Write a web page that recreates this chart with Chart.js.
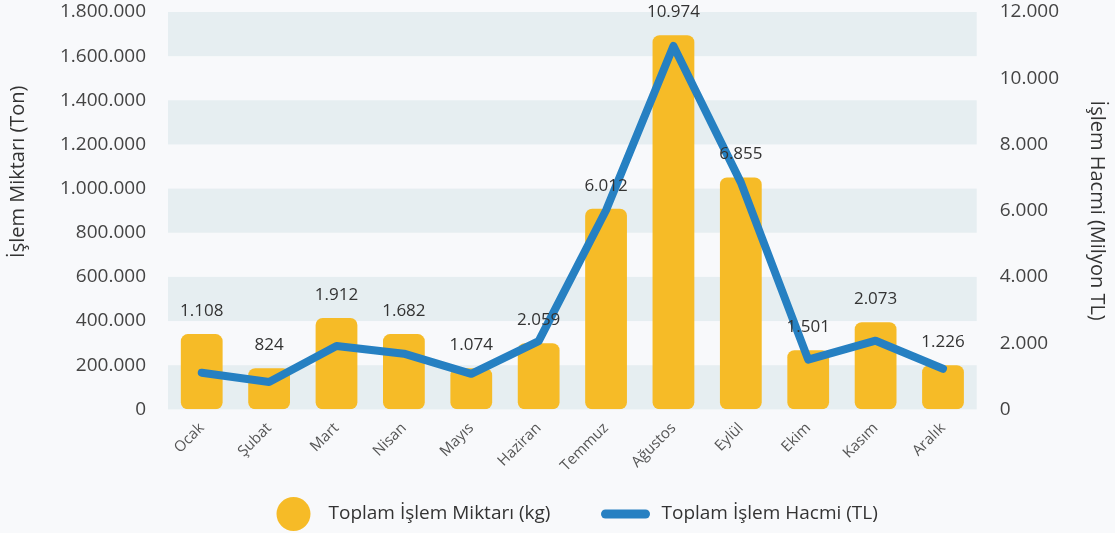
<!DOCTYPE html>
<html lang="tr">
<head>
<meta charset="utf-8">
<script src="https://cdn.jsdelivr.net/npm/chart.js@4.4.1/dist/chart.umd.min.js"></script>
<style>
  html, body { margin: 0; padding: 0; background: #f8f9fb; }
  #wrap { width: 1115px; height: 533px; }
</style>
</head>
<body>
<div id="wrap"><canvas id="islemChart"></canvas></div>
<script>
const months = ["Ocak", "Şubat", "Mart", "Nisan", "Mayıs", "Haziran", "Temmuz", "Ağustos", "Eylül", "Ekim", "Kasım", "Aralık"];
// toplam islem miktari (sol eksen)
const miktar = [341000, 186000, 414000, 341000, 186000, 300000, 909000, 1695000, 1050000, 268000, 395000, 200000];
// toplam islem hacmi, milyon TL (sag eksen)
const hacim = [1108, 824, 1912, 1682, 1074, 2059, 6012, 10974, 6855, 1501, 2073, 1226];
const legendNames = ["Toplam İşlem Miktarı (kg)", "Toplam İşlem Hacmi (TL)"];

const FONT = "'Open Sans', sans-serif";
const YELLOW = "#f6bb27";
const BLUE = "#2680c2";

function trNum(v) {
  return String(Math.round(v)).replace(/\B(?=(\d{3})+(?!\d))/g, ".");
}

// tick padding also pads the top/bottom of a vertical axis; drop that
function noVertPad(scale) {
  scale.paddingTop = 0;
  scale.paddingBottom = 0;
}

// alternating horizontal bands behind the bars
const bands = {
  id: "bands",
  beforeDatasetsDraw(chart) {
    const { ctx, chartArea, scales } = chart;
    const ticks = scales.y.ticks;
    ctx.save();
    ctx.fillStyle = "#e6eef1";
    for (let i = 0; i < ticks.length - 1; i += 2) {
      const y1 = scales.y.getPixelForValue(ticks[i].value);
      const y2 = scales.y.getPixelForValue(ticks[i + 1].value);
      ctx.fillRect(chartArea.left, y2, chartArea.right - chartArea.left, y1 - y2);
    }
    ctx.restore();
  }
};

// hacim values written above each bar
const valueLabels = {
  id: "valueLabels",
  afterDatasetsDraw(chart) {
    const { ctx } = chart;
    const bars = chart.getDatasetMeta(0).data;
    ctx.save();
    ctx.font = "17px " + FONT;
    ctx.fillStyle = "#333";
    ctx.textAlign = "center";
    ctx.textBaseline = "middle";
    bars.forEach((bar, i) => {
      ctx.fillText(trNum(hacim[i]), bar.x, bar.y - 23);
    });
    ctx.restore();
  }
};

// legend at the bottom: circle for bars, thick line for the line series
const bottomLegend = {
  id: "bottomLegend",
  afterDraw(chart) {
    const { ctx } = chart;
    const cx = chart.width / 2;
    const y = chart.height - 19;
    ctx.save();
    ctx.font = "19px " + FONT;
    ctx.fillStyle = YELLOW;
    ctx.beginPath();
    ctx.arc(cx - 264, y, 17, 0, Math.PI * 2);
    ctx.fill();
    ctx.strokeStyle = BLUE;
    ctx.lineWidth = 9;
    ctx.lineCap = "round";
    ctx.beginPath();
    ctx.moveTo(cx + 48, y);
    ctx.lineTo(cx + 88, y);
    ctx.stroke();
    ctx.fillStyle = "#333";
    ctx.textAlign = "left";
    ctx.textBaseline = "middle";
    ctx.fillText(legendNames[0], cx - 229, y);
    ctx.fillText(legendNames[1], cx + 104, y);
    ctx.restore();
  }
};

const ctx = document.getElementById("islemChart").getContext("2d");
new Chart(ctx, {
  data: {
    labels: months,
    datasets: [
      {
        type: "bar",
        label: legendNames[0],
        data: miktar,
        backgroundColor: YELLOW,
        borderRadius: 7,
        borderSkipped: false,
        barPercentage: 0.62,
        categoryPercentage: 1,
        yAxisID: "y",
        order: 2
      },
      {
        type: "line",
        label: legendNames[1],
        data: hacim,
        borderColor: BLUE,
        borderWidth: 8,
        borderCapStyle: "round",
        borderJoinStyle: "round",
        pointRadius: 0,
        tension: 0,
        yAxisID: "y1",
        order: 1
      }
    ]
  },
  options: {
    responsive: true,
    maintainAspectRatio: false,
    animation: false,
    layout: { padding: { top: 12, bottom: 56, left: 6, right: 6 } },
    plugins: {
      legend: { display: false },
      tooltip: { enabled: false }
    },
    scales: {
      x: {
        grid: { display: false },
        border: { display: false },
        ticks: {
          color: "#555",
          font: { family: FONT, size: 15 },
          maxRotation: 45,
          minRotation: 45,
          padding: 2
        }
      },
      y: {
        position: "left",
        min: 0,
        max: 1800000,
        afterFit: noVertPad,
        grid: { display: false },
        border: { display: false },
        ticks: {
          stepSize: 200000,
          color: "#444",
          padding: 14,
          font: { family: FONT, size: 19 },
          callback: v => trNum(v)
        },
        title: {
          display: true,
          text: "               İşlem Miktarı (Ton)",
          color: "#333",
          font: { family: FONT, size: 20 },
          padding: { top: 0, bottom: 16 }
        }
      },
      y1: {
        position: "right",
        min: 0,
        max: 12000,
        afterFit: noVertPad,
        grid: { display: false },
        border: { display: false },
        ticks: {
          stepSize: 2000,
          color: "#444",
          padding: 15,
          font: { family: FONT, size: 19 },
          callback: v => trNum(v)
        },
        title: {
          display: true,
          text: "İşlem Hacmi (Milyon TL)",
          color: "#333",
          font: { family: FONT, size: 20 },
          padding: { top: 0, bottom: 11 }
        }
      }
    }
  },
  plugins: [bands, valueLabels, bottomLegend]
});
</script>
</body>
</html>
